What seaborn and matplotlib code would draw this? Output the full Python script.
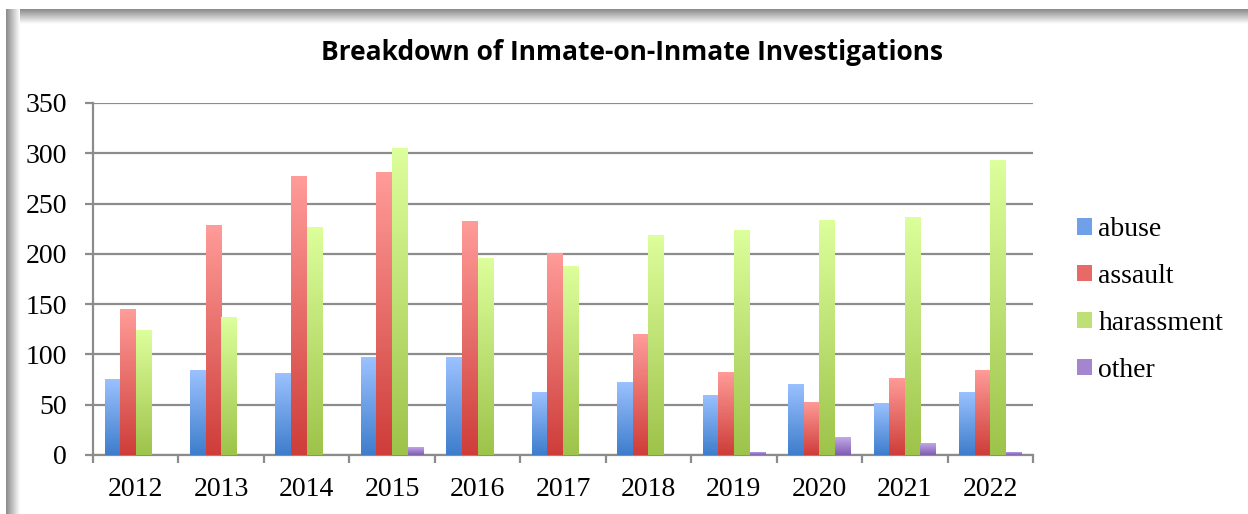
import numpy as np
import pandas as pd
import matplotlib
matplotlib.use("Agg")
import matplotlib.pyplot as plt
import seaborn as sns
from matplotlib.colors import LinearSegmentedColormap
from matplotlib.patches import Patch

years = ["2012", "2013", "2014", "2015", "2016", "2017", "2018", "2019", "2020", "2021", "2022"]
series = ["abuse", "assault", "harassment", "other"]
abuse = [76, 85, 82, 97, 97, 63, 73, 60, 71, 52, 63]
assault = [145, 229, 277, 281, 233, 201, 120, 83, 53, 77, 85]
harassment = [124, 137, 227, 305, 196, 188, 219, 224, 234, 237, 293]
other = [0, 0, 0, 8, 0, 0, 0, 3, 18, 12, 3]
yticks = [0, 50, 100, 150, 200, 250, 300, 350]
title = "Breakdown of Inmate-on-Inmate Investigations"

top_colors = ["#9CC2FF", "#FF9C99", "#DDFF9C", "#C7ADEE"]
bot_colors = ["#3E7DCC", "#CE3D39", "#9DC34A", "#7E5EAE"]
mid_colors = ["#6FA0E8", "#E86A67", "#BEE076", "#A486CF"]

df = pd.DataFrame({
    "year": years * 4,
    "series": [s for s in series for _ in years],
    "value": abuse + assault + harassment + other,
})

sns.set_style("white")
W, H = 1248, 514
fig = plt.figure(figsize=(W / 100, H / 100), dpi=100)
fig.patch.set_facecolor("white")

# frame shadow (decoration)
bg = fig.add_axes([0, 0, 1, 1], zorder=-10)
bg.axis("off")
shade = LinearSegmentedColormap.from_list("sh", ["#8a8a8a", "#ffffff"])
g = np.linspace(0, 1, 64)
bg.imshow(g[:, None], extent=[6, W, 24, 9], origin="upper", aspect="auto", cmap=shade)
bg.imshow(g[None, :], extent=[6, 20, H, 9], origin="upper", aspect="auto", cmap=shade)
bg.set_xlim(0, W)
bg.set_ylim(H, 0)

ax = fig.add_axes([93 / W, 1 - 455 / H, (1033 - 93) / W, (455 - 103) / H])
sns.barplot(data=df, x="year", y="value", hue="series", order=years, hue_order=series,
            palette=mid_colors, width=0.73, gap=0, linewidth=0, legend=False, ax=ax,
            saturation=1)

for i, cont in enumerate(ax.containers):
    cmap = LinearSegmentedColormap.from_list(f"c{i}", [bot_colors[i], top_colors[i]])
    for p in cont.patches:
        h = p.get_height()
        if h <= 0:
            p.set_visible(False)
            continue
        x0 = p.get_x()
        x1 = x0 + p.get_width()
        im = ax.imshow(np.linspace(0, 1, 256)[:, None], extent=[x0, x1, 0, h], origin="lower",
                       aspect="auto", cmap=cmap, zorder=3)
        im.set_clip_path(p)
        p.set_facecolor("none")

ax.set_xlim(-0.5, 10.5)
ax.set_ylim(0, 350)
ax.set_yticks(yticks)
ax.set_xlabel("")
ax.set_ylabel("")
ax.grid(axis="y", color="#8c8c8c", linewidth=1.6, zorder=0)
ax.set_axisbelow(True)
for s in ["top", "right"]:
    ax.spines[s].set_visible(False)
for s in ["left", "bottom"]:
    ax.spines[s].set_color("#8c8c8c")
    ax.spines[s].set_linewidth(1.6)

serif = ["Liberation Serif", "DejaVu Serif"]
fs = 20
ax.set_xticks(range(len(years)))
ax.set_xticklabels(years, fontfamily=serif, fontsize=fs, color="black")
ax.set_xticks(np.arange(-0.5, 11, 1), minor=True)
ax.tick_params(axis="x", which="major", length=0, pad=16)
ax.tick_params(axis="x", which="minor", length=5.8, width=1.6, color="#8c8c8c", direction="out")
ax.tick_params(axis="y", length=5.8, width=1.6, color="#8c8c8c", direction="out", pad=13)
for lab in ax.get_yticklabels():
    lab.set_fontfamily(serif)
    lab.set_fontsize(fs)
    lab.set_color("black")
ax.tick_params(axis="y", left=True)
ax.tick_params(axis="x", bottom=True, which="both")

fig.text(632 / W, 1 - 52 / H, title, ha="center", va="center", fontsize=19,
         fontweight="bold", color="black", fontfamily=["Open Sans", "DejaVu Sans"])

handles = [Patch(facecolor=mid_colors[i], edgecolor="none") for i in range(4)]
leg = fig.legend(handles, series, loc="upper left", bbox_to_anchor=(1052 / W, 1 - 192 / H),
                 frameon=False, prop={"family": serif, "size": fs},
                 handlelength=0.55, handleheight=0.55, handletextpad=0.22, labelspacing=0.79)
for t in leg.get_texts():
    t.set_color("black")

fig.savefig("out.png", dpi=100)
